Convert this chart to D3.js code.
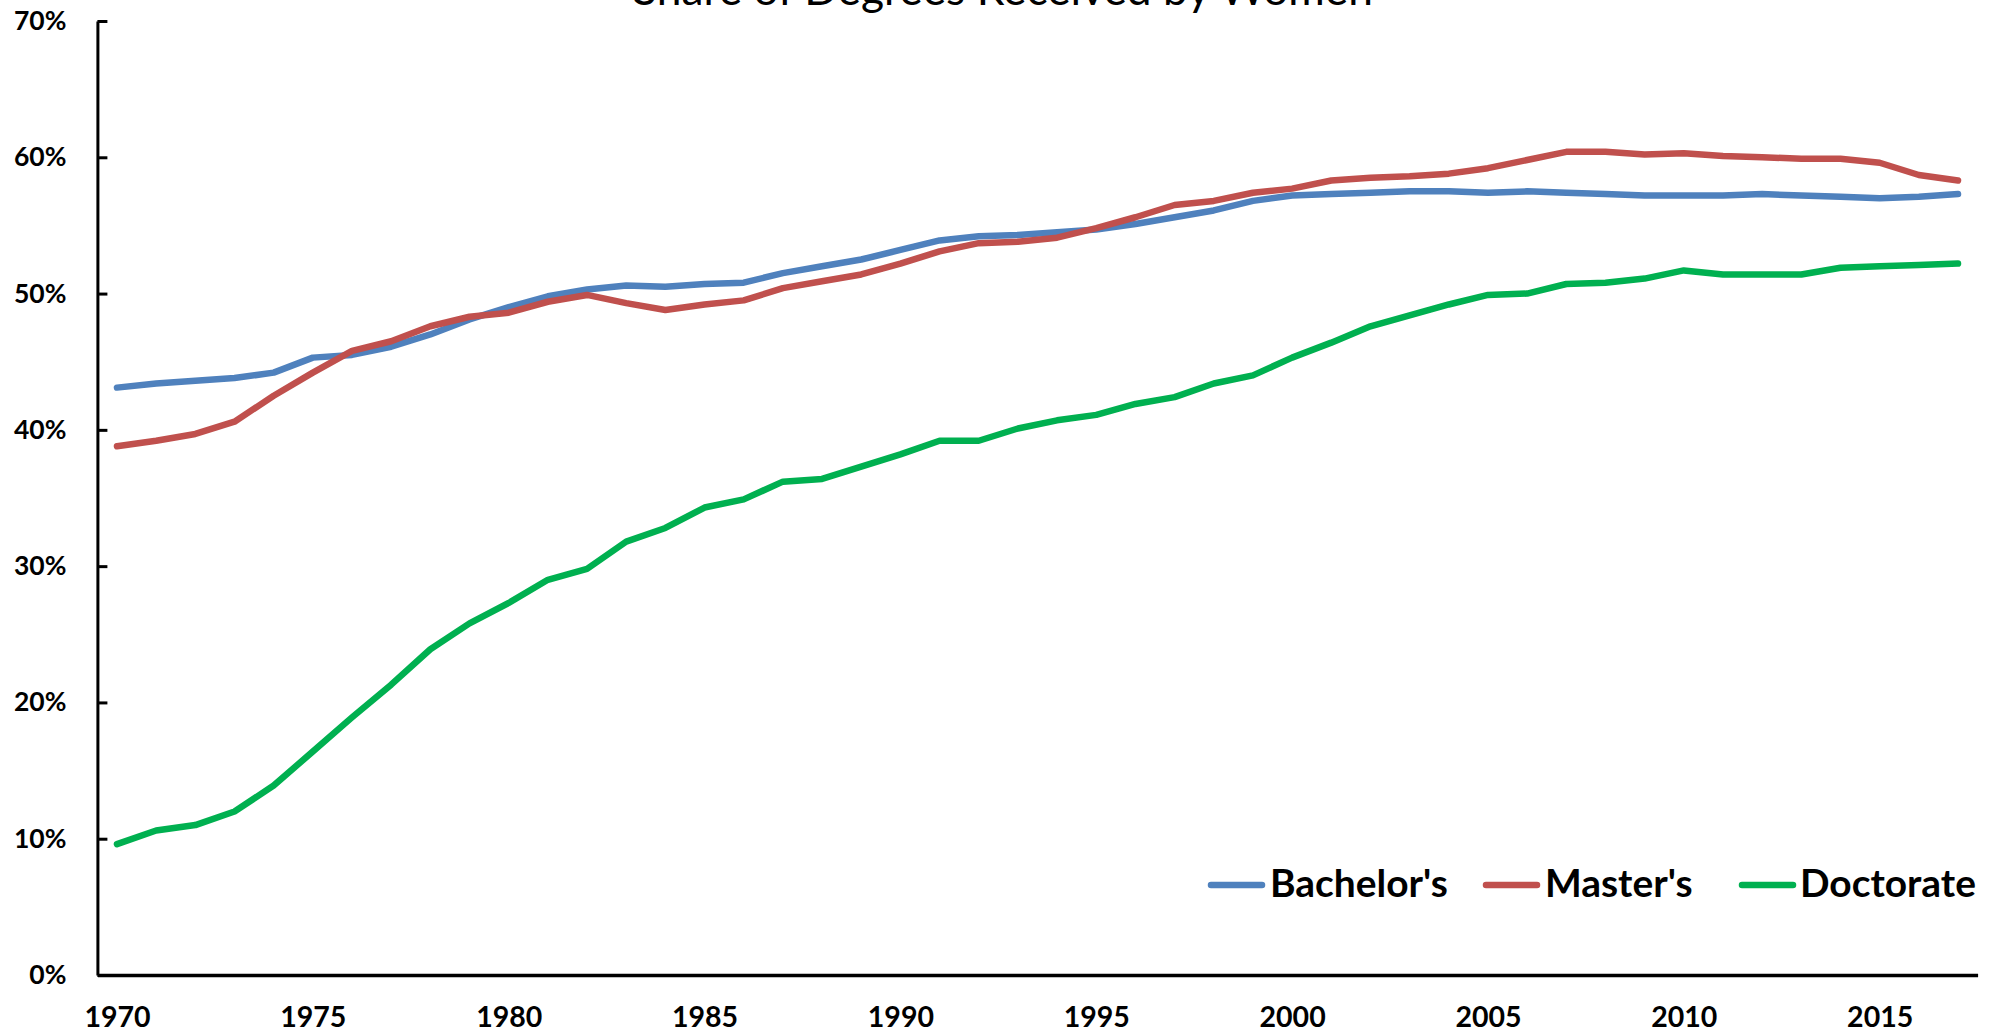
<!DOCTYPE html>
<html>
<head>
<meta charset="utf-8">
<script src="https://cdn.jsdelivr.net/npm/d3@7"></script>
<style>
  html, body { margin: 0; padding: 0; background: #ffffff; overflow: hidden; }
  svg { display: block; }
</style>
</head>
<body>
<svg id="chart" width="1997" height="1032"></svg>
<script>
// ---------------- DATA ----------------
const years = d3.range(1970, 2018);
const tickYears = [1970, 1975, 1980, 1985, 1990, 1995, 2000, 2005, 2010, 2015];
const yTicks = [0, 0.1, 0.2, 0.3, 0.4, 0.5, 0.6, 0.7];
const seriesNames = ["Bachelor's", "Master's", "Doctorate"];
const seriesColors = ["#4F81BD", "#C0504D", "#00B050"];
const titleText = "Share of Degrees Received by Women";

const bachelors = [
  43.1, 43.4, 43.6, 43.8, 44.2, 45.3, 45.5, 46.1, 47.0, 48.1,
  49.0, 49.8, 50.3, 50.6, 50.5, 50.7, 50.8, 51.5, 52.0, 52.5,
  53.2, 53.9, 54.2, 54.3, 54.5, 54.7, 55.1, 55.6, 56.1, 56.8,
  57.2, 57.3, 57.4, 57.5, 57.5, 57.4, 57.5, 57.4, 57.3, 57.2,
  57.2, 57.2, 57.3, 57.2, 57.1, 57.0, 57.1, 57.3
];
const masters = [
  38.8, 39.2, 39.7, 40.6, 42.5, 44.2, 45.8, 46.5, 47.6, 48.3,
  48.6, 49.4, 49.9, 49.3, 48.8, 49.2, 49.5, 50.4, 50.9, 51.4,
  52.2, 53.1, 53.7, 53.8, 54.1, 54.8, 55.6, 56.5, 56.8, 57.4,
  57.7, 58.3, 58.5, 58.6, 58.8, 59.2, 59.8, 60.4, 60.4, 60.2,
  60.3, 60.1, 60.0, 59.9, 59.9, 59.6, 58.7, 58.3
];
const doctorates = [
  9.6, 10.6, 11.0, 12.0, 13.9, 16.4, 18.9, 21.3, 23.9, 25.8,
  27.3, 29.0, 29.8, 31.8, 32.8, 34.3, 34.9, 36.2, 36.4, 37.3,
  38.2, 39.2, 39.2, 40.1, 40.7, 41.1, 41.9, 42.4, 43.4, 44.0,
  45.3, 46.4, 47.6, 48.4, 49.2, 49.9, 50.0, 50.7, 50.8, 51.1,
  51.7, 51.4, 51.4, 51.4, 51.9, 52.0, 52.1, 52.2
];
const seriesValues = [bachelors, masters, doctorates];

// ---------------- LAYOUT ----------------
const plotLeft = 97.4, plotRight = 1977.6, plotTop = 21, plotBottom = 975;
const svg = d3.select("#chart");

const x = d3.scalePoint().domain(years).range([plotLeft, plotRight]).padding(0.5);
const y = d3.scaleLinear().domain([0, 0.7]).range([plotBottom, plotTop]);

// Title (partially cut off at the top, as in the reference)
const title = svg.append("text")
  .attr("x", 1003).attr("y", 5)
  .attr("text-anchor", "middle")
  .style("font-family", "Lato, 'Open Sans', sans-serif")
  .style("font-size", "40px")
  .style("fill", "#000")
  .text(titleText);
(function fit(sel, target) {
  const w = sel.node().getComputedTextLength();
  const fs = parseFloat(sel.style("font-size"));
  sel.style("font-size", (fs * target / w) + "px");
})(title, 740);

// Y axis
const yAxis = d3.axisLeft(y)
  .tickValues(yTicks)
  .tickFormat(d3.format(".0%"))
  .tickSize(-10)
  .tickSizeOuter(0)
  .tickPadding(31);
const gy = svg.append("g").attr("transform", `translate(${plotLeft},0)`).call(yAxis);
gy.select(".domain").attr("stroke", "#000").attr("stroke-width", 3);
gy.selectAll(".tick line").attr("stroke", "#000").attr("stroke-width", 3);
gy.selectAll(".tick text")
  .style("font-family", "Lato, 'Open Sans', sans-serif")
  .style("font-weight", "bold")
  .style("font-size", "26.5px")
  .attr("fill", "#000");

// X axis
const xAxis = d3.axisBottom(x)
  .tickValues(tickYears)
  .tickSize(0)
  .tickSizeOuter(0);
const gx = svg.append("g").attr("transform", `translate(0,${plotBottom})`).call(xAxis);
gx.select(".domain").attr("stroke", "#000").attr("stroke-width", 3.5);
gx.selectAll(".tick text")
  .attr("y", 52).attr("dy", null)
  .style("font-family", "Lato, 'Open Sans', sans-serif")
  .style("font-weight", "bold")
  .style("font-size", "28.5px")
  .attr("fill", "#000");

// Lines
const line = d3.line()
  .x((d, i) => x(years[i]))
  .y(d => y(d / 100));

svg.append("g").selectAll("path.series")
  .data(seriesValues)
  .join("path")
  .attr("class", "series")
  .attr("d", d => line(d))
  .attr("fill", "none")
  .attr("stroke", (d, i) => seriesColors[i])
  .attr("stroke-width", 6.5)
  .attr("stroke-linejoin", "round")
  .attr("stroke-linecap", "round");

// Legend
const legendY = 885;
const legendItems = [
  { lineX: 1211, textX: 1270 },
  { lineX: 1486, textX: 1545 },
  { lineX: 1742, textX: 1800 }
];
const lg = svg.append("g");
const items = lg.selectAll("g.item").data(seriesNames).join("g").attr("class", "item");
items.append("line")
  .attr("x1", (d, i) => legendItems[i].lineX)
  .attr("x2", (d, i) => legendItems[i].lineX + 51)
  .attr("y1", legendY).attr("y2", legendY)
  .attr("stroke", (d, i) => seriesColors[i])
  .attr("stroke-width", 6.5)
  .attr("stroke-linecap", "round");
const ltexts = items.append("text")
  .attr("x", (d, i) => legendItems[i].textX)
  .attr("y", legendY + 12)
  .style("font-family", "Lato, 'Open Sans', sans-serif")
  .style("font-weight", "bold")
  .style("font-size", "34px")
  .attr("fill", "#000")
  .text(d => d);
// scale legend font so "Bachelor's" matches the reference width
const w0 = ltexts.filter((d, i) => i === 0).node().getComputedTextLength();
ltexts.style("font-size", (34 * 178 / w0) + "px");
</script>
</body>
</html>
